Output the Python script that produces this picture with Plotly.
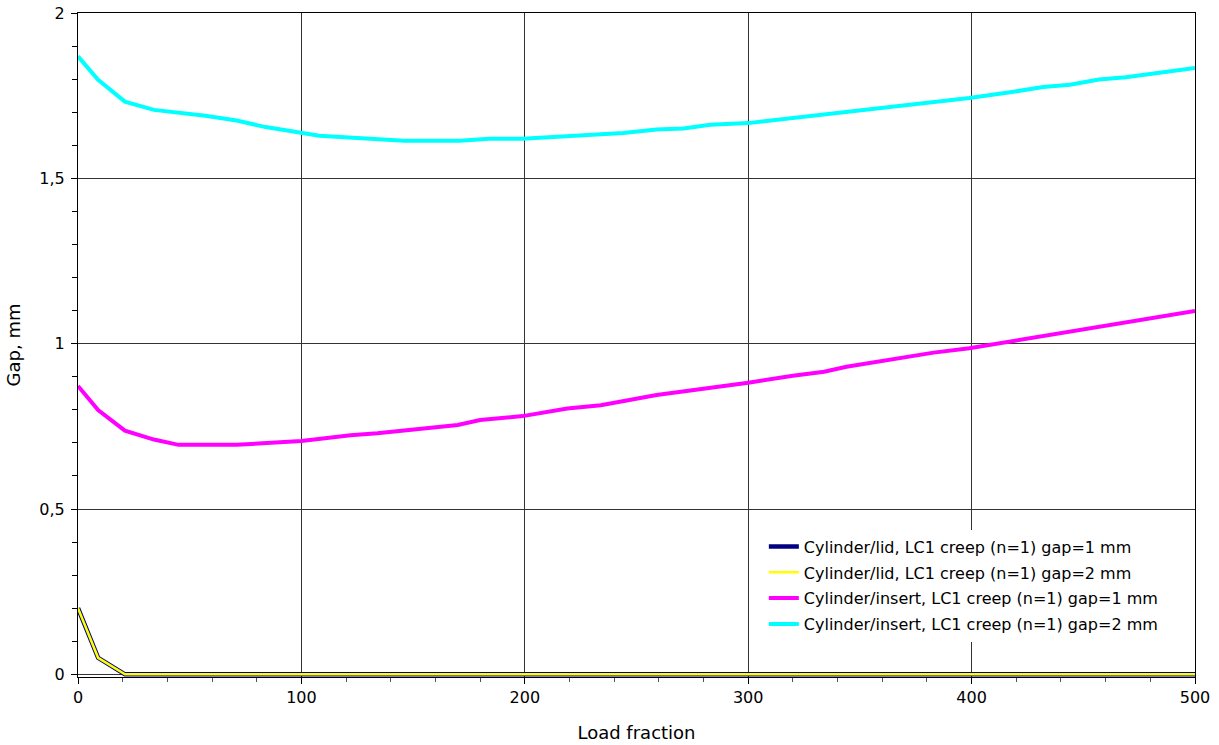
import plotly.graph_objects as go

# Load fraction sample points for each curve
x_lid = [0, 9, 21, 100, 200, 300, 400, 500]
gap_lid_1mm = [0.20, 0.05, 0.0, 0.0, 0.0, 0.0, 0.0, 0.0]
gap_lid_2mm = [0.20, 0.05, 0.0, 0.0, 0.0, 0.0, 0.0, 0.0]

x_insert_1mm = [0, 9, 21, 34, 45, 71, 100, 122, 134, 146, 158, 170, 180, 199,
                219, 234, 259, 274, 286, 300, 320, 334, 344, 383, 399, 408, 419, 500]
gap_insert_1mm = [0.872, 0.799, 0.737, 0.710, 0.694, 0.694, 0.706, 0.723, 0.729,
                  0.737, 0.745, 0.754, 0.769, 0.781, 0.804, 0.814, 0.845, 0.858,
                  0.867, 0.882, 0.903, 0.915, 0.930, 0.973, 0.986, 0.996, 1.011, 1.099]

x_insert_2mm = [0, 9, 21, 34, 57, 71, 84, 96, 108, 146, 171, 184, 199, 244, 259,
                271, 283, 300, 399, 418, 432, 444, 457, 469, 483, 500]
gap_insert_2mm = [1.869, 1.798, 1.732, 1.707, 1.689, 1.675, 1.655, 1.643, 1.629,
                  1.614, 1.614, 1.620, 1.620, 1.637, 1.648, 1.651, 1.662, 1.667,
                  1.743, 1.761, 1.776, 1.783, 1.799, 1.806, 1.820, 1.834]

series_names = [
    "Cylinder/lid, LC1 creep (n=1) gap=1 mm",
    "Cylinder/lid, LC1 creep (n=1) gap=2 mm",
    "Cylinder/insert, LC1 creep (n=1) gap=1 mm",
    "Cylinder/insert, LC1 creep (n=1) gap=2 mm",
]

y_tickvals = [0, 0.5, 1, 1.5, 2]
y_ticktext = ["0", "0,5", "1", "1,5", "2"]
x_tickvals = [0, 100, 200, 300, 400, 500]

FONT = "DejaVu Sans"

fig = go.Figure()
fig.add_trace(go.Scatter(x=x_lid, y=gap_lid_1mm, name=series_names[0], mode="lines",
                         legendgroup="a", line=dict(color="#000080", width=4.5)))
fig.add_trace(go.Scatter(x=x_lid, y=gap_lid_2mm, name=series_names[1], mode="lines",
                         legendgroup="b", line=dict(color="#FFFF00", width=2.5)))
fig.add_trace(go.Scatter(x=x_insert_1mm, y=gap_insert_1mm, name=series_names[2], mode="lines",
                         legendgroup="c", line=dict(color="#FF00FF", width=4)))
fig.add_trace(go.Scatter(x=x_insert_2mm, y=gap_insert_2mm, name=series_names[3], mode="lines",
                         legendgroup="d", line=dict(color="#00FFFF", width=4)))

fig.update_layout(
    width=1219, height=745,
    margin=dict(l=78, r=24, t=13, b=68.4),
    paper_bgcolor="white", plot_bgcolor="white",
    font=dict(family=FONT, size=16, color="black"),
    showlegend=True,
    legend=dict(
        x=0.614, y=0.222, xanchor="left", yanchor="top",
        bgcolor="white", borderwidth=0,
        font=dict(family=FONT, size=16, color="black"),
        traceorder="grouped", tracegroupgap=2, itemwidth=30,
    ),
)

fig.update_xaxes(
    range=[0, 500], tickvals=x_tickvals, automargin=False,
    showgrid=True, gridcolor="#333333", gridwidth=1,
    showline=True, linecolor="black", linewidth=1, mirror=True,
    ticks="outside", ticklen=6, tickcolor="black",
    minor=dict(dtick=20, ticks="outside", ticklen=4, tickcolor="#555555", showgrid=False),
    zeroline=False,
    tickfont=dict(family=FONT, size=16),
    title=dict(text="Load fraction", font=dict(family=FONT, size=18), standoff=20),
)
# Range starts marginally below zero so the zero-gap lines are not cut at the frame
fig.update_yaxes(
    range=[-0.008, 2], tickvals=y_tickvals, ticktext=y_ticktext, automargin=False,
    showgrid=True, gridcolor="#333333", gridwidth=1,
    showline=True, linecolor="black", linewidth=1, mirror=True,
    ticks="outside", ticklen=6, tickcolor="black", ticklabelstandoff=3,
    minor=dict(tick0=0, dtick=0.1, ticks="outside", ticklen=5, tickcolor="black", showgrid=False),
    zeroline=False,
    tickfont=dict(family=FONT, size=16),
    title=dict(text="Gap, mm", font=dict(family=FONT, size=18), standoff=14),
)

fig.write_html("out.html")
